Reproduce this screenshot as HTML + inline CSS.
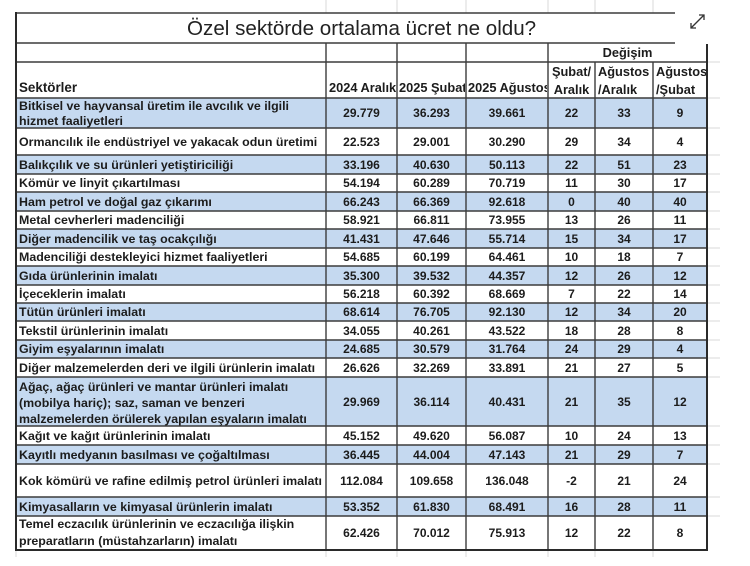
<!DOCTYPE html>
<html><head><meta charset="utf-8">
<style>
html,body{margin:0;padding:0;background:#fff;}
body{width:750px;height:566px;overflow:hidden;position:relative;font-family:"Liberation Sans",Arial,sans-serif;color:#1c1c1c;}
.title{position:absolute;left:187px;top:17px;font-size:20.6px;line-height:24px;white-space:nowrap;color:#222;}
.row{position:absolute;left:16px;width:691px;display:flex;}
.row.b{background:#c5d9f0;}
.row>div{display:flex;align-items:center;justify-content:center;font-weight:bold;font-size:12px;white-space:nowrap;overflow:hidden;}
.row>div.l{justify-content:flex-start;padding-left:3px;box-sizing:border-box;font-size:12.4px;line-height:16px;}
.w0{width:310px}.w1{width:71px}.w2{width:69px}.w3{width:82px}.w4{width:47px}.w5{width:58px}.w6{width:54px}
.h{position:absolute;font-weight:bold;font-size:12.8px;white-space:nowrap;overflow:hidden;color:#1c1c1c;}
</style></head><body>
<svg width="750" height="566" style="position:absolute;left:0;top:0" xmlns="http://www.w3.org/2000/svg">
<g stroke="#dadada" stroke-width="1">
<line x1="326" y1="0" x2="326" y2="13"/><line x1="397" y1="0" x2="397" y2="13"/><line x1="466" y1="0" x2="466" y2="13"/><line x1="548" y1="0" x2="548" y2="13"/><line x1="595" y1="0" x2="595" y2="13"/><line x1="653" y1="0" x2="653" y2="13"/>
<line x1="326" y1="550" x2="326" y2="557"/><line x1="397" y1="550" x2="397" y2="557"/><line x1="466" y1="550" x2="466" y2="557"/><line x1="548" y1="550" x2="548" y2="557"/><line x1="595" y1="550" x2="595" y2="557"/><line x1="653" y1="550" x2="653" y2="557"/><line x1="16" y1="550" x2="16" y2="557"/>
<line x1="707" y1="62" x2="720" y2="62"/><line x1="707" y1="98" x2="720" y2="98"/><line x1="707" y1="128" x2="720" y2="128"/><line x1="707" y1="155" x2="720" y2="155"/><line x1="707" y1="174" x2="720" y2="174"/><line x1="707" y1="192" x2="720" y2="192"/><line x1="707" y1="211" x2="720" y2="211"/><line x1="707" y1="229" x2="720" y2="229"/><line x1="707" y1="248" x2="720" y2="248"/><line x1="707" y1="266" x2="720" y2="266"/><line x1="707" y1="285" x2="720" y2="285"/><line x1="707" y1="303" x2="720" y2="303"/><line x1="707" y1="321" x2="720" y2="321"/><line x1="707" y1="340" x2="720" y2="340"/><line x1="707" y1="358" x2="720" y2="358"/><line x1="707" y1="377" x2="720" y2="377"/><line x1="707" y1="426" x2="720" y2="426"/><line x1="707" y1="445" x2="720" y2="445"/><line x1="707" y1="464" x2="720" y2="464"/><line x1="707" y1="497" x2="720" y2="497"/><line x1="707" y1="516" x2="720" y2="516"/>
</g>
</svg>

<div class="title">Özel sektörde ortalama ücret ne oldu?</div>

<!-- header -->
<div class="h" style="left:19px;top:80px;font-size:13.4px;line-height:16px;">Sektörler</div>
<div class="h" style="left:329px;top:80px;width:67px;line-height:16px;">2024 Aralık</div>
<div class="h" style="left:399px;top:80px;width:66px;line-height:16px;">2025 Şubat</div>
<div class="h" style="left:468px;top:80px;width:79px;line-height:16px;">2025 Ağustos</div>
<div class="h" style="left:548px;top:45px;width:159px;text-align:center;line-height:16px;">Değişim</div>
<div class="h" style="left:548px;top:63px;width:47px;text-align:center;line-height:17.5px;">Şubat/<br>Aralık</div>
<div class="h" style="left:598px;top:63px;width:55px;line-height:17.5px;">Ağustos<br>/Aralık</div>
<div class="h" style="left:656px;top:63px;width:51px;line-height:17.5px;">Ağustos<br>/Şubat</div>

<div class="row b" style="top:98px;height:30px"><div class="l w0" style="line-height:15px;padding-top:1px">Bitkisel ve hayvansal üretim ile avcılık ve ilgili<br>hizmet faaliyetleri</div><div class="w1">29.779</div><div class="w2">36.293</div><div class="w3">39.661</div><div class="w4">22</div><div class="w5">33</div><div class="w6">9</div></div>
<div class="row" style="top:128px;height:27px"><div class="l w0">Ormancılık ile endüstriyel ve yakacak odun üretimi</div><div class="w1">22.523</div><div class="w2">29.001</div><div class="w3">30.290</div><div class="w4">29</div><div class="w5">34</div><div class="w6">4</div></div>
<div class="row b" style="top:155px;height:19px"><div class="l w0">Balıkçılık ve su ürünleri yetiştiriciliği</div><div class="w1">33.196</div><div class="w2">40.630</div><div class="w3">50.113</div><div class="w4">22</div><div class="w5">51</div><div class="w6">23</div></div>
<div class="row" style="top:174px;height:18px"><div class="l w0">Kömür ve linyit çıkartılması</div><div class="w1">54.194</div><div class="w2">60.289</div><div class="w3">70.719</div><div class="w4">11</div><div class="w5">30</div><div class="w6">17</div></div>
<div class="row b" style="top:192px;height:19px"><div class="l w0">Ham petrol ve doğal gaz çıkarımı</div><div class="w1">66.243</div><div class="w2">66.369</div><div class="w3">92.618</div><div class="w4">0</div><div class="w5">40</div><div class="w6">40</div></div>
<div class="row" style="top:211px;height:18px"><div class="l w0">Metal cevherleri madenciliği</div><div class="w1">58.921</div><div class="w2">66.811</div><div class="w3">73.955</div><div class="w4">13</div><div class="w5">26</div><div class="w6">11</div></div>
<div class="row b" style="top:229px;height:19px"><div class="l w0">Diğer madencilik ve taş ocakçılığı</div><div class="w1">41.431</div><div class="w2">47.646</div><div class="w3">55.714</div><div class="w4">15</div><div class="w5">34</div><div class="w6">17</div></div>
<div class="row" style="top:248px;height:18px"><div class="l w0">Madenciliği destekleyici hizmet faaliyetleri</div><div class="w1">54.685</div><div class="w2">60.199</div><div class="w3">64.461</div><div class="w4">10</div><div class="w5">18</div><div class="w6">7</div></div>
<div class="row b" style="top:266px;height:19px"><div class="l w0">Gıda ürünlerinin imalatı</div><div class="w1">35.300</div><div class="w2">39.532</div><div class="w3">44.357</div><div class="w4">12</div><div class="w5">26</div><div class="w6">12</div></div>
<div class="row" style="top:285px;height:18px"><div class="l w0">İçeceklerin imalatı</div><div class="w1">56.218</div><div class="w2">60.392</div><div class="w3">68.669</div><div class="w4">7</div><div class="w5">22</div><div class="w6">14</div></div>
<div class="row b" style="top:303px;height:18px"><div class="l w0">Tütün ürünleri imalatı</div><div class="w1">68.614</div><div class="w2">76.705</div><div class="w3">92.130</div><div class="w4">12</div><div class="w5">34</div><div class="w6">20</div></div>
<div class="row" style="top:321px;height:19px"><div class="l w0">Tekstil ürünlerinin imalatı</div><div class="w1">34.055</div><div class="w2">40.261</div><div class="w3">43.522</div><div class="w4">18</div><div class="w5">28</div><div class="w6">8</div></div>
<div class="row b" style="top:340px;height:18px"><div class="l w0">Giyim eşyalarının imalatı</div><div class="w1">24.685</div><div class="w2">30.579</div><div class="w3">31.764</div><div class="w4">24</div><div class="w5">29</div><div class="w6">4</div></div>
<div class="row" style="top:358px;height:19px"><div class="l w0">Diğer malzemelerden deri ve ilgili ürünlerin imalatı</div><div class="w1">26.626</div><div class="w2">32.269</div><div class="w3">33.891</div><div class="w4">21</div><div class="w5">27</div><div class="w6">5</div></div>
<div class="row b" style="top:377px;height:49px"><div class="l w0" style="padding-top:2px">Ağaç, ağaç ürünleri ve mantar ürünleri imalatı<br>(mobilya hariç); saz, saman ve benzeri<br>malzemelerden örülerek yapılan eşyaların imalatı</div><div class="w1">29.969</div><div class="w2">36.114</div><div class="w3">40.431</div><div class="w4">21</div><div class="w5">35</div><div class="w6">12</div></div>
<div class="row" style="top:426px;height:19px"><div class="l w0">Kağıt ve kağıt ürünlerinin imalatı</div><div class="w1">45.152</div><div class="w2">49.620</div><div class="w3">56.087</div><div class="w4">10</div><div class="w5">24</div><div class="w6">13</div></div>
<div class="row b" style="top:445px;height:19px"><div class="l w0">Kayıtlı medyanın basılması ve çoğaltılması</div><div class="w1">36.445</div><div class="w2">44.004</div><div class="w3">47.143</div><div class="w4">21</div><div class="w5">29</div><div class="w6">7</div></div>
<div class="row" style="top:464px;height:33px"><div class="l w0">Kok kömürü ve rafine edilmiş petrol ürünleri imalatı</div><div class="w1">112.084</div><div class="w2">109.658</div><div class="w3">136.048</div><div class="w4">-2</div><div class="w5">21</div><div class="w6">24</div></div>
<div class="row b" style="top:497px;height:19px"><div class="l w0">Kimyasalların ve kimyasal ürünlerin imalatı</div><div class="w1">53.352</div><div class="w2">61.830</div><div class="w3">68.491</div><div class="w4">16</div><div class="w5">28</div><div class="w6">11</div></div>
<div class="row" style="top:516px;height:34px"><div class="l w0" style="line-height:17px">Temel eczacılık ürünlerinin ve eczacılığa ilişkin<br>preparatların (müstahzarların) imalatı</div><div class="w1">62.426</div><div class="w2">70.012</div><div class="w3">75.913</div><div class="w4">12</div><div class="w5">22</div><div class="w6">8</div></div>

<svg width="750" height="566" style="position:absolute;left:0;top:0" xmlns="http://www.w3.org/2000/svg">
<g stroke="#3c3c3c" stroke-width="1.4" fill="none">
<line x1="16" y1="13" x2="675" y2="13"/>
<line x1="16" y1="43" x2="675" y2="43"/>
<line x1="16" y1="62" x2="707" y2="62"/>
<line x1="16" y1="98" x2="707" y2="98"/>
<line x1="16" y1="128" x2="707" y2="128"/>
<line x1="16" y1="155" x2="707" y2="155"/>
<line x1="16" y1="174" x2="707" y2="174"/>
<line x1="16" y1="192" x2="707" y2="192"/>
<line x1="16" y1="211" x2="707" y2="211"/>
<line x1="16" y1="229" x2="707" y2="229"/>
<line x1="16" y1="248" x2="707" y2="248"/>
<line x1="16" y1="266" x2="707" y2="266"/>
<line x1="16" y1="285" x2="707" y2="285"/>
<line x1="16" y1="303" x2="707" y2="303"/>
<line x1="16" y1="321" x2="707" y2="321"/>
<line x1="16" y1="340" x2="707" y2="340"/>
<line x1="16" y1="358" x2="707" y2="358"/>
<line x1="16" y1="377" x2="707" y2="377"/>
<line x1="16" y1="426" x2="707" y2="426"/>
<line x1="16" y1="445" x2="707" y2="445"/>
<line x1="16" y1="464" x2="707" y2="464"/>
<line x1="16" y1="497" x2="707" y2="497"/>
<line x1="16" y1="516" x2="707" y2="516"/>
<line x1="326" y1="43" x2="326" y2="550"/>
<line x1="397" y1="43" x2="397" y2="550"/>
<line x1="466" y1="43" x2="466" y2="550"/>
<line x1="548" y1="43" x2="548" y2="550"/>
<line x1="595" y1="62" x2="595" y2="550"/>
<line x1="653" y1="62" x2="653" y2="550"/>
</g>
<g stroke="#2a2a2a" stroke-width="2" fill="none">
<line x1="16" y1="12" x2="16" y2="551"/>
<line x1="707" y1="44" x2="707" y2="551"/>
<line x1="15" y1="550" x2="708" y2="550"/>
</g>
<g stroke="#333" stroke-width="1.3" fill="none">
<line x1="691" y1="28" x2="704" y2="15"/>
<polyline points="691,23 691,28 696,28"/>
<polyline points="699,15 704,15 704,20"/>
</g>
</svg>
</body></html>
